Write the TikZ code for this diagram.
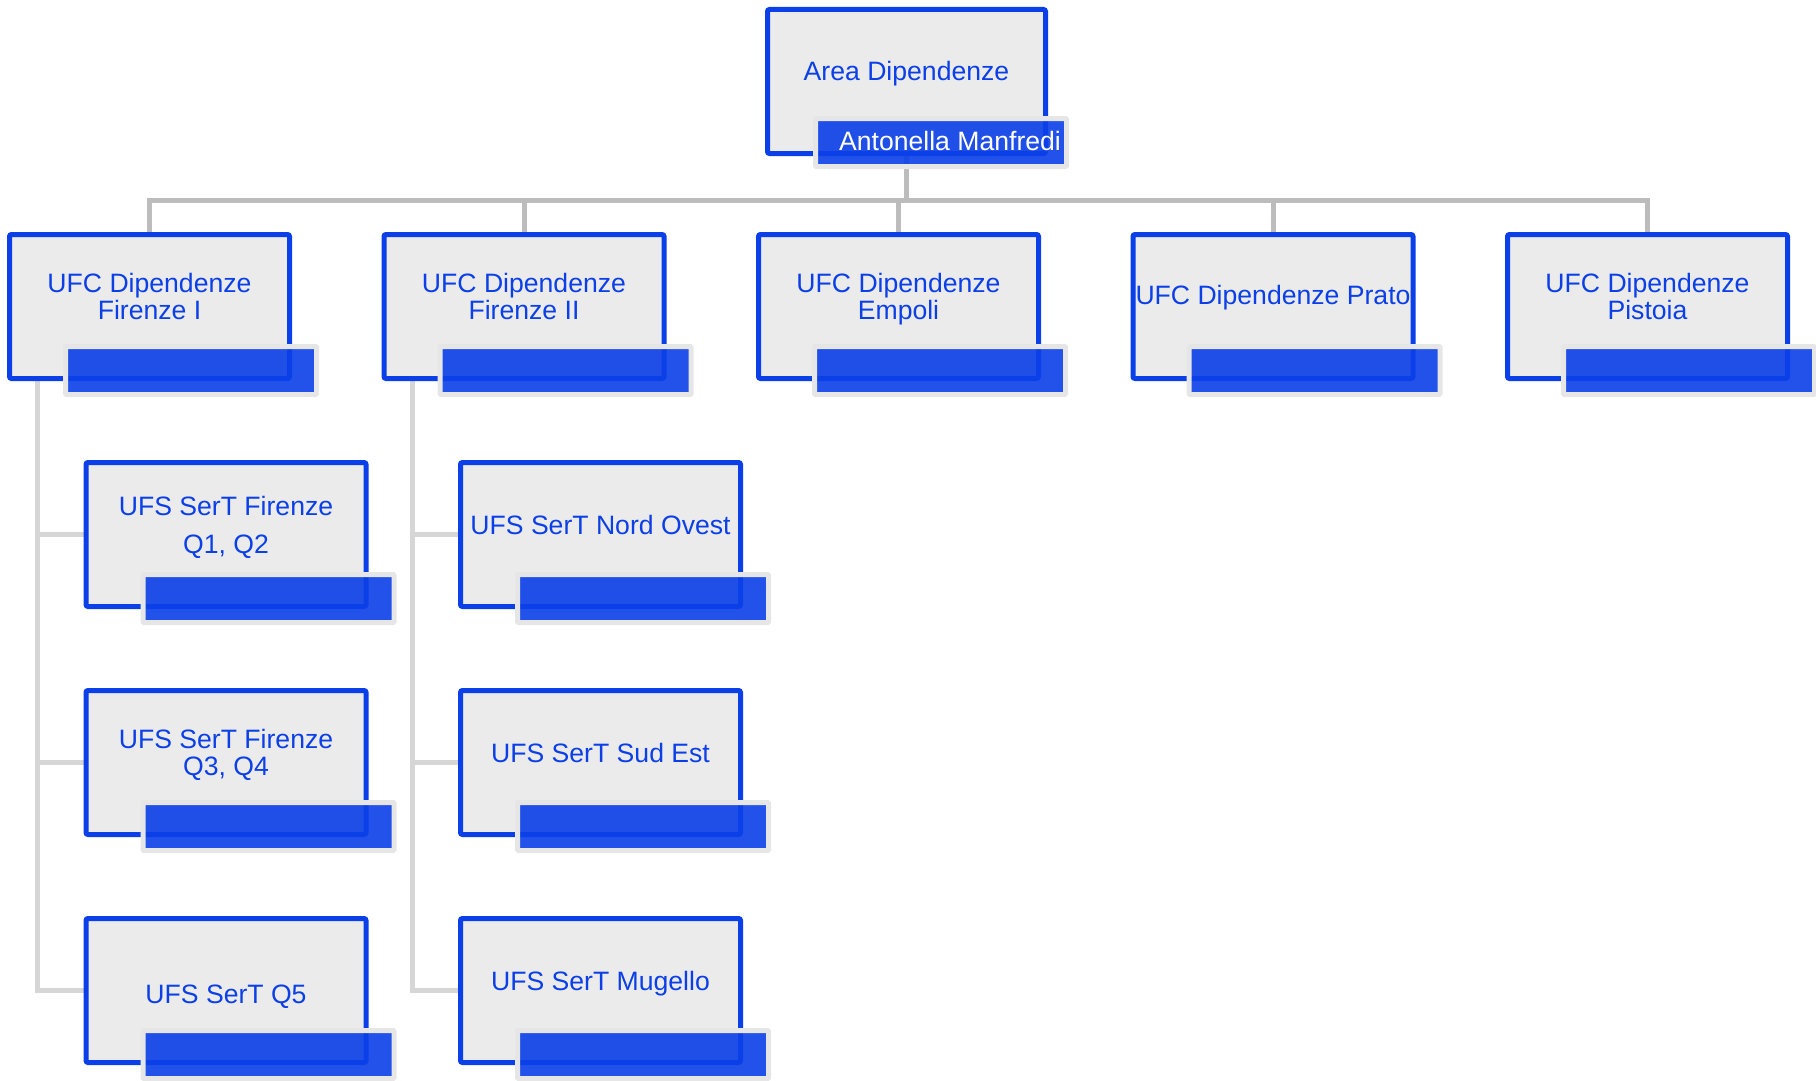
\documentclass[tikz,border=0pt]{standalone}
\usepackage{fontspec}
\setmainfont{Liberation Sans}
\usetikzlibrary{positioning,backgrounds}
\definecolor{unitblue}{HTML}{0B3FE8}
\definecolor{unitgray}{HTML}{EBEBEB}
\definecolor{framegray}{HTML}{E6E6E6}
\definecolor{linkgray}{HTML}{BCBCBC}
\definecolor{sublinkgray}{HTML}{D6D6D6}

\begin{document}
\begin{tikzpicture}[x=1pt, y=-1pt, every node/.style={font=\fontsize{26.6}{27}\selectfont, text=unitblue},
  unitbox/.style={draw=unitblue, fill=unitgray, line width=5pt, rounded corners=2pt, minimum width=280pt, minimum height=144pt, inner sep=0pt, outer sep=0pt},
  namebar/.style={draw=framegray, fill=unitblue, fill opacity=0.9, line width=5pt, rounded corners=1pt, minimum width=251pt, minimum height=48pt, inner sep=0pt, outer sep=0pt, anchor=south east},
  unittext/.style={align=center},
  bartext/.style={text=white},
  link/.style={draw=linkgray, line width=5pt},
  sublink/.style={draw=sublinkgray, line width=5pt}]
\useasboundingbox (0,0) rectangle (1816,1081);
% head of the area
\node[unitbox, minimum width=278pt] (area) at (906.5,81.5) {};
\node[namebar] (area-bar) at ([xshift=21pt, yshift=-13pt]area.south east) {};
\node[unittext] (area-txt) at ([yshift=8pt]area.center) {Area Dipendenze};
\node[bartext] (area-name) at ([xshift=9pt, yshift=1.5pt]area-bar.center) {Antonella Manfredi};
% UFC row
\node[unitbox] (fi1) at (149.5,306.5) {};
\node[unitbox, right=94.5pt of fi1] (fi2) {};
\node[unitbox, right=94.5pt of fi2] (emp) {};
\node[unitbox, right=94.5pt of emp] (pra) {};
\node[unitbox, right=94.5pt of pra] (pis) {};
\node[namebar] (fi1-bar) at ([xshift=27pt, yshift=-16pt]fi1.south east) {};
\node[namebar] (fi2-bar) at ([xshift=27pt, yshift=-16pt]fi2.south east) {};
\node[namebar] (emp-bar) at ([xshift=27pt, yshift=-16pt]emp.south east) {};
\node[namebar] (pra-bar) at ([xshift=27pt, yshift=-16pt]pra.south east) {};
\node[namebar] (pis-bar) at ([xshift=27pt, yshift=-16pt]pis.south east) {};
\node[unittext] (fi1-txt) at ([yshift=10.5pt]fi1.center) {UFC Dipendenze\\ Firenze I};
\node[unittext] (fi2-txt) at ([yshift=10.5pt]fi2.center) {UFC Dipendenze\\ Firenze II};
\node[unittext] (emp-txt) at ([yshift=7.7pt]emp.center) {UFC Dipendenze\\ Empoli};
\node[unittext] (pra-txt) at ([yshift=8.5pt]pra.center) {UFC Dipendenze Prato};
\node[unittext] (pis-txt) at ([yshift=10.5pt]pis.center) {UFC Dipendenze\\ Pistoia};
% UFS under Firenze I
\node[unitbox, below=84pt of fi1, xshift=76.5pt] (q12) {};
\node[unitbox, below=84pt of q12] (q34) {};
\node[unitbox, below=84pt of q34] (q5) {};
\node[namebar] (q12-bar) at ([xshift=28pt, yshift=-16pt]q12.south east) {};
\node[namebar] (q34-bar) at ([xshift=28pt, yshift=-16pt]q34.south east) {};
\node[namebar] (q5-bar) at ([xshift=28pt, yshift=-16pt]q5.south east) {};
\node[unittext] (q12-txt) at ([yshift=7pt]q12.center) {UFS SerT Firenze\\[11pt] Q1, Q2};
\node[unittext] (q34-txt) at ([yshift=7.5pt]q34.center) {UFS SerT Firenze\\ Q3, Q4};
\node[unittext] (q5-txt) at ([yshift=-6.5pt]q5.center) {UFS SerT Q5};
% UFS under Firenze II
\node[unitbox, below=84pt of fi2, xshift=76.5pt] (nov) {};
\node[unitbox, below=84pt of nov] (sue) {};
\node[unitbox, below=84pt of sue] (mug) {};
\node[namebar] (nov-bar) at ([xshift=28pt, yshift=-16pt]nov.south east) {};
\node[namebar] (sue-bar) at ([xshift=28pt, yshift=-16pt]sue.south east) {};
\node[namebar] (mug-bar) at ([xshift=28pt, yshift=-16pt]mug.south east) {};
\node[unittext] (nov-txt) at ([yshift=9.5pt]nov.center) {UFS SerT Nord Ovest};
\node[unittext] (sue-txt) at ([yshift=9.5pt]sue.center) {UFS SerT Sud Est};
\node[unittext] (mug-txt) at ([yshift=6.5pt]mug.center) {UFS SerT Mugello};
% connectors
\begin{scope}[on background layer]
\coordinate (bus) at ([yshift=-46.5pt]area.south);
\draw[link] (area.south) -- (bus) -| (fi1.north);
\draw[link] (area.south) -- (bus) -| (fi2.north);
\draw[link] (area.south) -- (bus) -| (emp.north);
\draw[link] (area.south) -- (bus) -| (pra.north);
\draw[link] (area.south) -- (bus) -| (pis.north);
\draw[sublink] ([xshift=28pt]fi1.south west) |- (q12.west);
\draw[sublink] ([xshift=28pt]fi1.south west) |- (q34.west);
\draw[sublink] ([xshift=28pt]fi1.south west) |- (q5.west);
\draw[sublink] ([xshift=28pt]fi2.south west) |- (nov.west);
\draw[sublink] ([xshift=28pt]fi2.south west) |- (sue.west);
\draw[sublink] ([xshift=28pt]fi2.south west) |- (mug.west);
\end{scope}
\end{tikzpicture}
\end{document}
